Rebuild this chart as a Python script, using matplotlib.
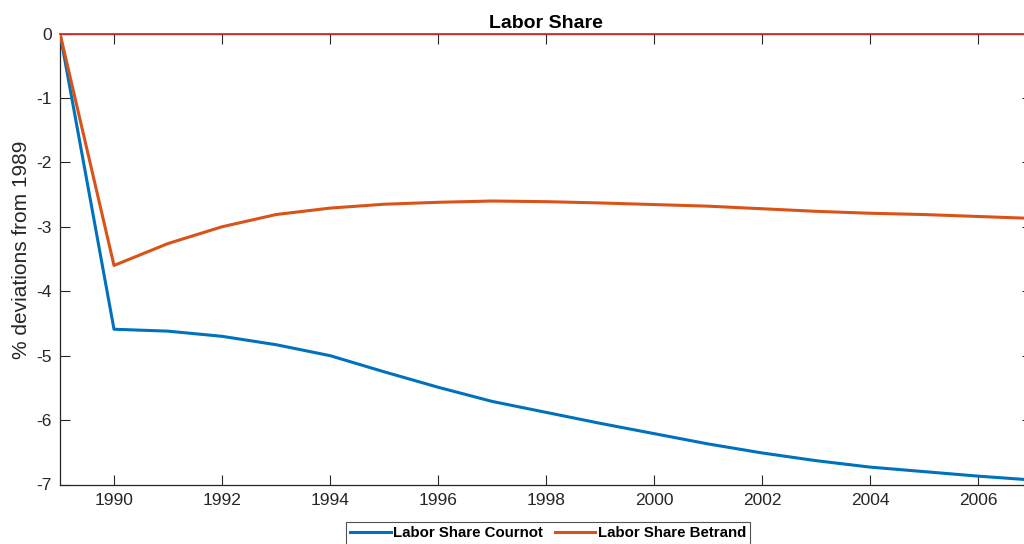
import matplotlib
matplotlib.use("Agg")
import matplotlib.pyplot as plt
from matplotlib.ticker import FixedLocator

years = list(range(1989, 2008))
cournot = [0.0, -4.59, -4.62, -4.70, -4.83, -5.00, -5.25, -5.49, -5.71, -5.88,
           -6.05, -6.21, -6.37, -6.51, -6.63, -6.73, -6.80, -6.87, -6.93]
bertrand = [0.0, -3.60, -3.26, -3.00, -2.81, -2.71, -2.65, -2.62, -2.60, -2.61,
            -2.63, -2.655, -2.68, -2.72, -2.76, -2.79, -2.81, -2.84, -2.87]
xticks = [1990, 1992, 1994, 1996, 1998, 2000, 2002, 2004, 2006]
yticks = [0, -1, -2, -3, -4, -5, -6, -7]

plt.rcParams['font.family'] = ['Liberation Sans', 'DejaVu Sans']
plt.rcParams['axes.unicode_minus'] = False
dark = '#262626'

fig = plt.figure(figsize=(10.24, 5.44), dpi=100)
ax = fig.add_axes([60/1024, (544-484.5)/544, 972/1024, 451/544])

ax.plot(years, cournot, color='#0072BD', lw=2.2, label='Labor Share Cournot', zorder=3)
ax.plot(years, bertrand, color='#D95319', lw=2.2, label='Labor Share Betrand', zorder=3)
ax.axhline(0, color='#d93030', lw=1.3, zorder=4, clip_on=False)

ax.set_xlim(1989, 2007)
ax.set_ylim(-7, 0)
ax.xaxis.set_major_locator(FixedLocator(xticks))
ax.yaxis.set_major_locator(FixedLocator(yticks))
ax.tick_params(direction='in', length=7, width=0.8, colors=dark, labelsize=12.5,
               top=True, right=True, pad=6)
for s in ax.spines.values():
    s.set_color(dark)
    s.set_linewidth(0.9)

ax.set_title('Labor Share', fontsize=14, fontweight='bold', color='black', pad=4)
ax.set_ylabel('% deviations from 1989', fontsize=15, color=dark)
ax.yaxis.set_label_coords(-0.030, 0.52)

leg = fig.legend(loc='upper center', bbox_to_anchor=(548/1024, (544-521.7)/544),
                 ncol=2, frameon=True, fancybox=False, prop={'weight': 'bold', 'size': 10.8},
                 handlelength=2.7, handletextpad=0.15, columnspacing=0.8,
                 borderpad=0.3, borderaxespad=0)
leg.get_frame().set_edgecolor(dark)
leg.get_frame().set_linewidth(0.8)

fig.savefig('out.png', dpi=100)
